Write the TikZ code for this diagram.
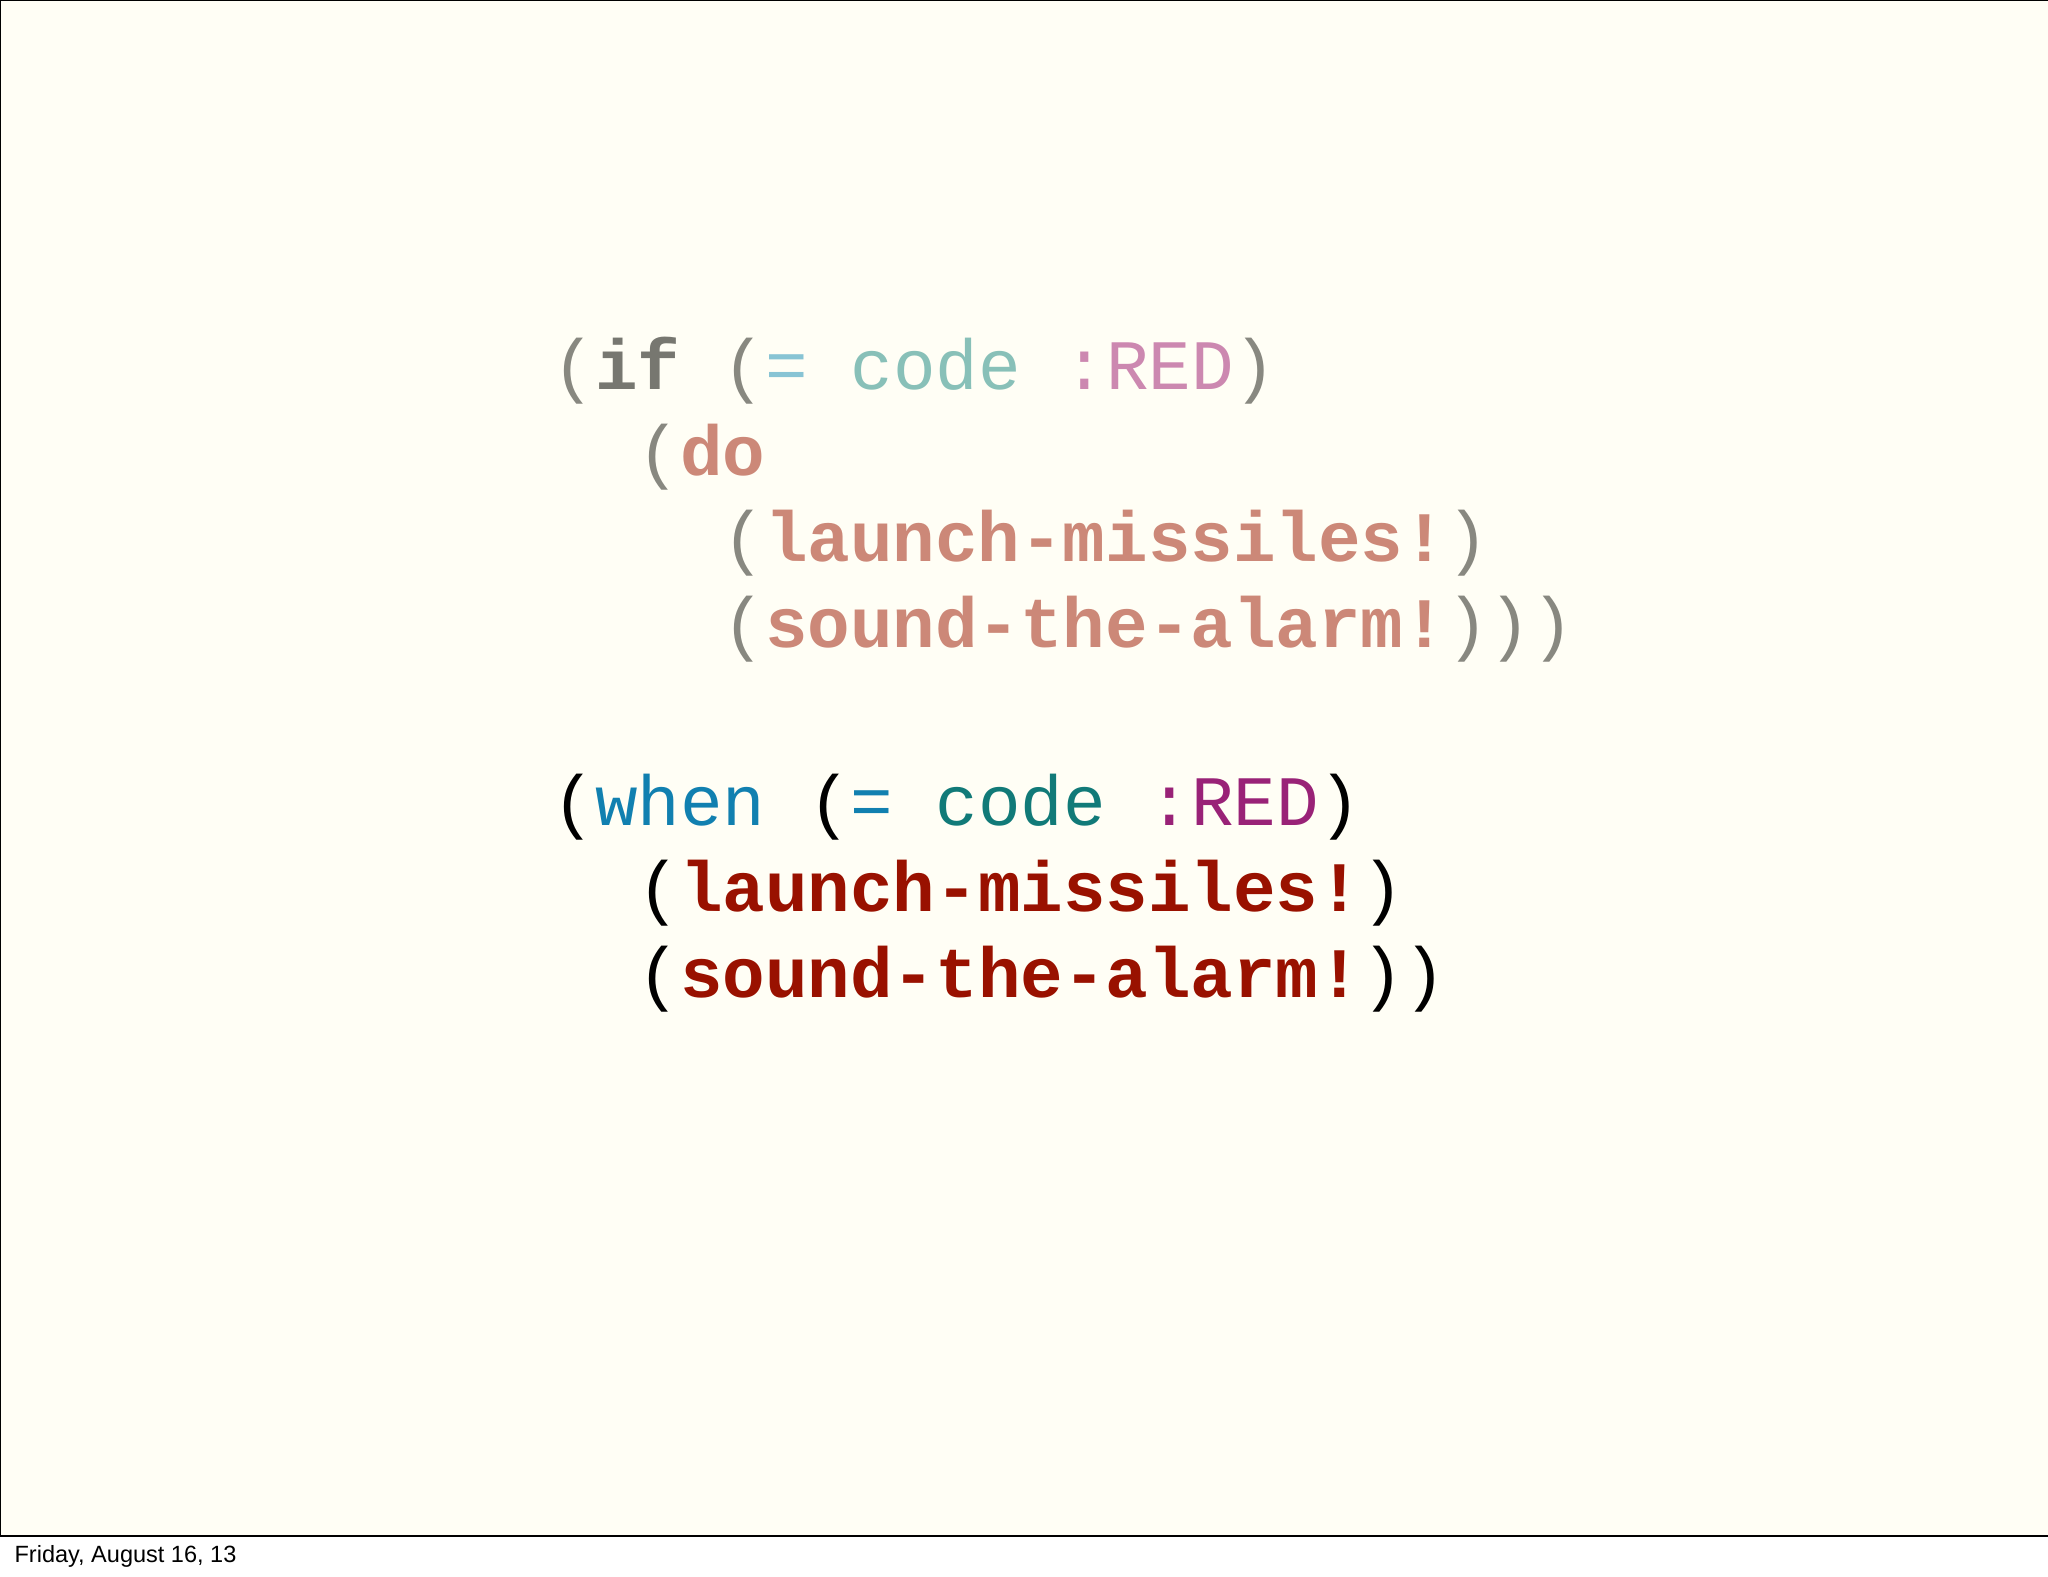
\documentclass[tikz,border=0pt]{standalone}
\usepackage{fontspec}
\setmonofont{Liberation Mono}
\newfontfamily\footfont{Liberation Sans}
\definecolor{bg}{HTML}{FFFEF5}
\definecolor{gp}{HTML}{888880}
\definecolor{gif}{HTML}{777770}
\definecolor{geq}{HTML}{88C4D4}
\definecolor{gcode}{HTML}{88C0B8}
\definecolor{gred}{HTML}{CC88B0}
\definecolor{gsal}{HTML}{CC8878}
\definecolor{bwhen}{HTML}{1180B0}
\definecolor{bcode}{HTML}{117A78}
\definecolor{bred}{HTML}{992277}
\definecolor{bfn}{HTML}{991100}
\tikzset{codeline/.style={anchor=base west,inner sep=0pt,font=\ttfamily\fontsize{54.3}{60}\selectfont}}
\newcommand{\B}[2]{\textcolor{#1}{\bfseries #2}}
\newcommand{\C}[2]{\textcolor{#1}{#2}}
\begin{document}
\begin{tikzpicture}[x=1pt,y=1pt]
\useasboundingbox (0,0) rectangle (1568,-1207);
\fill[white] (0,0) rectangle (1568,-1207);
\draw[fill=bg,line width=0.8pt] (0,0) rectangle (1568,-1176);
\node[codeline] (l1) at (423,-298) {\C{gp}{(}\B{gif}{if} \C{gp}{(}\C{geq}{=} \C{gcode}{code} \C{gred}{:RED}\C{gp}{)}};
\node[codeline] (l2) at (488,-364) {\C{gp}{(}\B{gsal}{do}};
\node[codeline] (l3) at (553,-430) {\C{gp}{(}\B{gsal}{launch-missiles!}\C{gp}{)}};
\node[codeline] (l4) at (553,-496) {\C{gp}{(}\B{gsal}{sound-the-alarm!}\C{gp}{)))}};
\node[codeline] (m1) at (423,-632) {(\C{bwhen}{when} (\C{bwhen}{=} \C{bcode}{code} \C{bred}{:RED})};
\node[codeline] (m2) at (488,-698) {(\B{bfn}{launch-missiles!})};
\node[codeline] (m3) at (488,-764) {(\B{bfn}{sound-the-alarm!}))};
\node[anchor=base west,inner sep=0pt,font=\footfont\fontsize{18}{20}\selectfont] (ft) at (11,-1196) {Friday, August 16, 13};
\end{tikzpicture}
\end{document}
